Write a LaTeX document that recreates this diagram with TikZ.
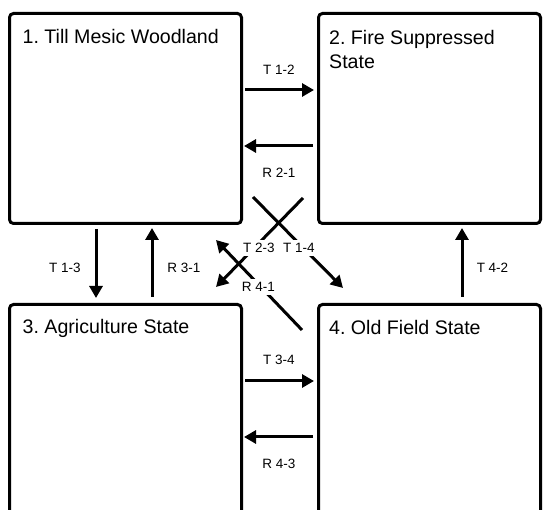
\documentclass[tikz,border=0pt]{standalone}
\usepackage{fontspec}
\setmainfont{Liberation Sans}
\usetikzlibrary{arrows.meta}
\frenchspacing
\begin{document}
\begin{tikzpicture}[x=1pt,y=-1pt,
  statebox/.style={draw, line width=3pt, rounded corners=4pt, anchor=north west, inner sep=0pt},
  title/.style={anchor=base west, font=\fontsize{19.6}{24}\selectfont, inner sep=0pt, align=left},
  lab/.style={font=\fontsize{13.5}{16}\selectfont, fill=white, inner sep=3pt},
  arr/.style={line width=3pt, -{Triangle[length=12pt,width=13pt]}}]
\useasboundingbox (0,0) rectangle (544,510);
\clip (0,0) rectangle (544,510);
% boxes
\node[statebox, minimum width=232pt, minimum height=210pt] (b1) at (8,12) {};
\node[statebox, minimum width=222pt, minimum height=210pt] (b2) at (317,12) {};
\node[statebox, minimum width=232pt, minimum height=240pt] (b3) at (8,303) {};
\node[statebox, minimum width=222pt, minimum height=240pt] (b4) at (317,303) {};
% titles
\node[title] (t1) at (22.5,43.3) {1. Till Mesic Woodland};
\node[title] (t2) at (329,69) {2. Fire Suppressed\\State};
\node[title] (t3) at (22.5,333.5) {3. Agriculture State};
\node[title] (t4) at (329,334.3) {4. Old Field State};
% connector end points
\coordinate (p12a) at (245,90);  \coordinate (p12b) at (314,90);
\coordinate (p21a) at (313,146); \coordinate (p21b) at (244,146);
\coordinate (p34a) at (245,381); \coordinate (p34b) at (314,381);
\coordinate (p43a) at (313,437); \coordinate (p43b) at (244,437);
\coordinate (p13a) at (96,229);  \coordinate (p13b) at (96,298);
\coordinate (p31a) at (152,297); \coordinate (p31b) at (152,228);
\coordinate (p42a) at (462,297); \coordinate (p42b) at (462,228);
\coordinate (d14a) at (253,197); \coordinate (d14b) at (343,288);
\coordinate (d23a) at (303,198); \coordinate (d23b) at (216,287);
\coordinate (d41a) at (302,330); \coordinate (d41b) at (216,240);
% connectors
\draw[arr] (p12a) -- (p12b);
\draw[arr] (p21a) -- (p21b);
\draw[arr] (p34a) -- (p34b);
\draw[arr] (p43a) -- (p43b);
\draw[arr] (p13a) -- (p13b);
\draw[arr] (p31a) -- (p31b);
\draw[arr] (p42a) -- (p42b);
\draw[arr] (d14a) -- (d14b);
\draw[arr] (d23a) -- (d23b);
\draw[arr] (d41a) -- (d41b);
% labels
\node[lab] (l12) at (279,70) {T 1-2};
\node[lab] (l21) at (279,172.5) {R 2-1};
\node[lab] (l34) at (279,360) {T 3-4};
\node[lab] (l43) at (279,464) {R 4-3};
\node[lab] (l13) at (65,268) {T 1-3};
\node[lab] (l31) at (184,268) {R 3-1};
\node[lab] (l42) at (492.5,268) {T 4-2};
\node[lab] (l23) at (259,248) {T 2-3};
\node[lab] (l14) at (299,248) {T 1-4};
\node[lab] (l41) at (258.5,287) {R 4-1};
\end{tikzpicture}
\end{document}
